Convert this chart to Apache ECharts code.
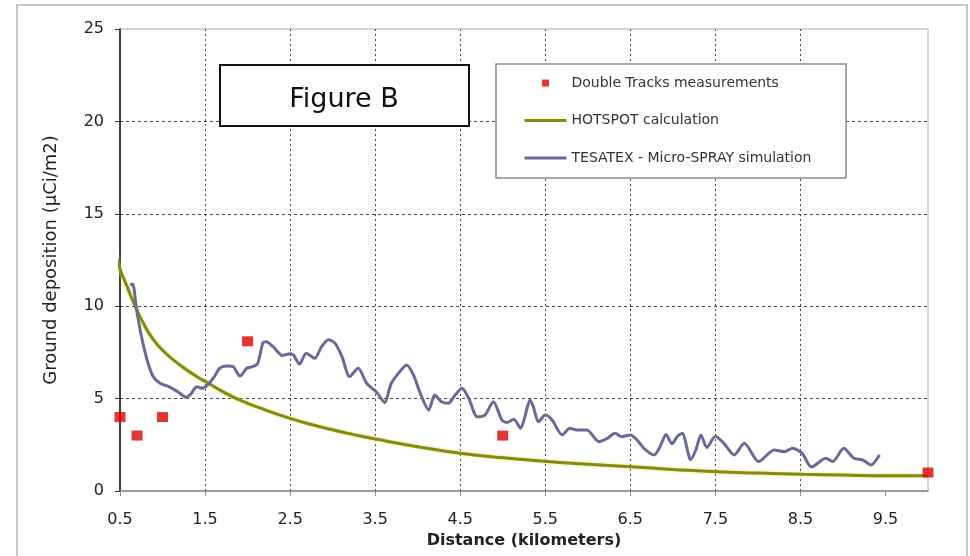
<!DOCTYPE html>
<html>
<head>
<meta charset="utf-8">
<script src="https://cdn.jsdelivr.net/npm/echarts@6/dist/echarts.min.js"></script>
<style>
html,body{margin:0;padding:0;background:#fff;}
#chart{width:970px;height:556px;}
</style>
</head>
<body>
<div id="chart"></div>
<script>
// ---- data ----
const xTickValues = [0.5, 1.5, 2.5, 3.5, 4.5, 5.5, 6.5, 7.5, 8.5, 9.5];
const measurements = [[0.5, 4.0], [0.7, 3.0], [1.0, 4.0], [2.0, 8.1], [5.0, 3.0], [10.0, 1.0]];
const hotspot = [
  [0.415, 13.6], [0.45, 12.8], [0.5, 12.0], [0.58, 11.1], [0.65, 10.3], [0.75, 9.3], [0.89, 8.2],
  [1.05, 7.4], [1.24, 6.7], [1.4, 6.2], [1.55, 5.8], [1.72, 5.35], [1.91, 4.92], [2.2, 4.4],
  [2.5, 3.93], [2.75, 3.6], [3.01, 3.3], [3.25, 3.05], [3.52, 2.8], [4.0, 2.4], [4.5, 2.04],
  [5.0, 1.8], [5.52, 1.59], [6.0, 1.45], [6.5, 1.31], [7.0, 1.17], [7.52, 1.04], [8.0, 0.97],
  [8.54, 0.9], [9.0, 0.86], [9.52, 0.83], [10.0, 0.83]
];
const tesatex = [
  [0.62, 11.15], [0.65, 11.2], [0.69, 9.97], [0.73, 8.89], [0.77, 7.99], [0.83, 6.91], [0.89, 6.19],
  [0.97, 5.83], [1.08, 5.64], [1.18, 5.37], [1.28, 5.07], [1.34, 5.29], [1.40, 5.64], [1.47, 5.56],
  [1.53, 5.74], [1.61, 6.19], [1.67, 6.64], [1.75, 6.76], [1.83, 6.73], [1.91, 6.22], [1.99, 6.64],
  [2.06, 6.73], [2.12, 6.91], [2.18, 8.02], [2.22, 8.08], [2.30, 7.81], [2.41, 7.33], [2.50, 7.43],
  [2.54, 7.36], [2.61, 6.87], [2.69, 7.46], [2.79, 7.18], [2.87, 7.81], [2.95, 8.19], [3.03, 7.99],
  [3.11, 7.27], [3.20, 6.19], [3.30, 6.64], [3.40, 5.83], [3.52, 5.33], [3.61, 4.79], [3.69, 5.83],
  [3.79, 6.46], [3.87, 6.82], [3.95, 6.28], [4.03, 5.29], [4.13, 4.38], [4.20, 5.19], [4.28, 4.83],
  [4.36, 4.75], [4.44, 5.19], [4.52, 5.56], [4.60, 5.02], [4.70, 4.02], [4.79, 4.11], [4.89, 4.83],
  [4.99, 3.84], [5.05, 3.70], [5.13, 3.88], [5.21, 3.39], [5.26, 4.02], [5.32, 4.92], [5.36, 4.56],
  [5.42, 3.75], [5.50, 4.11], [5.58, 3.84], [5.70, 3.03], [5.79, 3.39], [5.87, 3.30], [5.99, 3.30],
  [6.13, 2.67], [6.23, 2.85], [6.32, 3.12], [6.40, 2.94], [6.50, 3.03], [6.58, 2.76], [6.66, 2.31],
  [6.78, 1.95], [6.85, 2.40], [6.92, 3.06], [6.99, 2.55], [7.05, 2.94], [7.11, 3.12], [7.21, 1.70],
  [7.27, 2.22], [7.33, 3.03], [7.40, 2.35], [7.50, 2.96], [7.60, 2.58], [7.72, 1.95], [7.84, 2.58],
  [8.01, 1.59], [8.19, 2.22], [8.31, 2.13], [8.41, 2.31], [8.52, 2.04], [8.63, 1.30], [8.80, 1.77],
  [8.88, 1.59], [9.01, 2.31], [9.13, 1.77], [9.23, 1.68], [9.33, 1.41], [9.43, 1.95]
];
const seriesNames = ['Double Tracks measurements', 'HOTSPOT calculation', 'TESATEX - Micro-SPRAY simulation'];
const xAxisTitle = 'Distance (kilometers)';
const yAxisTitle = 'Ground deposition (µCi/m2)';
const figureLabel = 'Figure B';

const chart = echarts.init(document.getElementById('chart'), null, {renderer: 'canvas'});
const font = 'DejaVu Sans';
const hiddenSymbol = {color: 'rgba(0,0,0,0)', borderWidth: 0, borderColor: 'rgba(0,0,0,0)', opacity: 0};
const option = {
  animation: false,
  backgroundColor: '#ffffff',
  textStyle: {fontFamily: font},
  grid: {left: 120, right: 42, top: 29, bottom: 65, show: true, borderColor: '#a8a8a8', borderWidth: 1, backgroundColor: 'transparent'},
  xAxis: {
    type: 'value', min: 0.5, max: 10,
    name: xAxisTitle, nameLocation: 'middle', nameGap: 35,
    nameTextStyle: {fontFamily: font, fontSize: 16, fontWeight: 'bold', color: '#222'},
    axisLine: {show: true, lineStyle: {color: '#8a8a8a', width: 1.5}},
    axisTick: {show: true, customValues: xTickValues, length: 5, lineStyle: {color: '#8a8a8a'}},
    axisLabel: {customValues: xTickValues, margin: 21, fontFamily: font, fontSize: 16, color: '#222',
      formatter: v => v.toFixed(1)},
    splitLine: {show: true, showMinLine: false, showMaxLine: false, lineStyle: {color: '#444', width: 1, type: [2, 3]}}
  },
  yAxis: {
    type: 'value', min: 0, max: 25, interval: 5,
    name: yAxisTitle, nameLocation: 'middle', nameGap: 60,
    nameTextStyle: {fontFamily: font, fontSize: 18, color: '#222'},
    axisLine: {show: true, lineStyle: {color: '#111', width: 1.5}},
    axisTick: {show: true, length: 5, lineStyle: {color: '#333'}},
    axisLabel: {margin: 16, fontFamily: font, fontSize: 16, color: '#222'},
    splitLine: {show: true, showMinLine: false, showMaxLine: false, lineStyle: {color: '#444', width: 1, type: [3, 3]}}
  },
  legend: {
    orient: 'vertical', left: 518, top: 71,
    itemWidth: 42, itemHeight: 8, itemGap: 23.5,
    textStyle: {fontFamily: font, fontSize: 14, color: '#333'},
    z: 6,
    data: [
      {name: seriesNames[0], icon: 'path://M0,0h0.01v0.01h-0.01zM41.99,7.99h0.01v0.01h-0.01zM17.5,0.5h7v7h-7z',
        itemStyle: {color: '#e00000', borderWidth: 0}},
      {name: seriesNames[1], itemStyle: hiddenSymbol, lineStyle: {width: 3, color: '#878a12'}},
      {name: seriesNames[2], itemStyle: hiddenSymbol, lineStyle: {width: 3, color: '#6a6a98'}}
    ]
  },
  graphic: [
    {type: 'rect', z: 0, silent: true, shape: {x: 17, y: 5, width: 950, height: 570},
      style: {fill: 'none', stroke: '#c8c8c8', lineWidth: 2}},
    {type: 'rect', z: 5, shape: {x: 496, y: 64, width: 350, height: 114},
      style: {fill: '#fff', stroke: '#8c8c8c', lineWidth: 1.5}},
    {type: 'rect', z: 5, shape: {x: 220, y: 65, width: 249, height: 61},
      style: {fill: '#fff', stroke: '#111', lineWidth: 2}},
    {type: 'text', z: 6, x: 344, y: 100, style: {text: figureLabel, fontFamily: font, fontSize: 27,
      fill: '#111', align: 'center', verticalAlign: 'middle'}}
  ],
  series: [
    {
      name: seriesNames[1], type: 'line', data: hotspot, smooth: true, showSymbol: false, symbol: 'none',
      clip: false, z: 3,
      lineStyle: {color: '#878a12', width: 3, shadowColor: 'rgba(225,225,110,0.9)', shadowBlur: 3},
      itemStyle: {color: '#878a12'}
    },
    {
      name: seriesNames[2], type: 'line', data: tesatex, smooth: 0.25, showSymbol: false, symbol: 'none',
      clip: false, z: 3,
      lineStyle: {color: '#6a6a98', width: 3},
      itemStyle: {color: '#6a6a98'}
    },
    {
      name: seriesNames[0], type: 'scatter', data: measurements, symbol: 'rect', symbolSize: [11, 10],
      clip: false, z: 4,
      itemStyle: {color: '#e00000'}
    }
  ]
};
chart.setOption(option);
</script>
</body>
</html>
